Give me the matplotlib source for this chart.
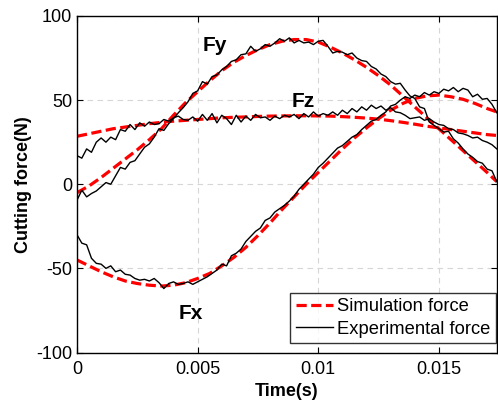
import numpy as np
import matplotlib
matplotlib.use("Agg")
import matplotlib.pyplot as plt

plt.rcParams['font.family'] = ['Liberation Sans', 'DejaVu Sans']
plt.rcParams['axes.unicode_minus'] = False

# simulation force (smooth), sampled every 0.5 ms
t_sim = [0.0, 0.0005, 0.001, 0.0015, 0.002, 0.0025, 0.003, 0.0035, 0.004, 0.0045,
         0.005, 0.0055, 0.006, 0.0065, 0.007, 0.0075, 0.008, 0.0085, 0.009, 0.0095,
         0.01, 0.0105, 0.011, 0.0115, 0.012, 0.0125, 0.013, 0.0135, 0.014, 0.0145,
         0.015, 0.0155, 0.016, 0.0165, 0.017, 0.0174]
fx_sim = [-45, -48.5, -52, -55, -57.5, -59, -60, -60.5, -60, -58.5,
          -56, -53, -48.5, -43.5, -37.5, -30.5, -23, -15, -7.5, 0,
          7, 14, 21, 27.5, 33.5, 39, 44, 48, 51, 52.5,
          53, 52, 50.5, 48, 45, 43]
fy_sim = [-5, -1, 4, 9.5, 15, 20.5, 26.5, 33, 41, 48.5,
          55, 61.5, 67.5, 72.5, 76.5, 80, 83, 85, 86, 86,
          84.5, 81.5, 78, 74, 69.5, 64.5, 59, 52.5, 46, 39.5,
          33, 26.5, 20, 13.5, 7, 1.5]
fz_sim = [28.5, 30, 31.5, 33, 34, 35, 36, 36.8, 37.5, 38,
          38.5, 39, 39.5, 39.8, 40, 40.3, 40.5, 40.6, 40.7, 40.7,
          40.6, 40.5, 40.2, 39.8, 39.3, 38.7, 37.8, 36.8, 35.7, 34.5,
          33.5, 32.5, 31.5, 30.5, 29.5, 29]

# experimental force (measured), sampled every 0.2 ms
t_exp = np.round(np.arange(88) * 0.0002, 5)
fx_exp = [-30, -35, -36, -44, -47, -47.5, -50, -48.5, -52, -51,
          -53.5, -54, -56, -57, -56.5, -57.5, -56, -58.5, -62, -59,
          -58, -59.5, -59, -58, -59.5, -58, -56.5, -55, -53, -51,
          -47.5, -48.5, -42.5, -41, -38.5, -34, -31, -28, -26, -21.5,
          -20, -16.5, -14.5, -12.5, -10, -7, -3, 0, 3, 6,
          10, 12.5, 15.5, 18.5, 21.5, 23, 25.5, 28, 29.5, 32.5,
          35, 37.5, 38.5, 41, 43, 46.5, 47.5, 50, 52, 51,
          53, 52, 54.5, 53, 55, 54, 56.5, 55.5, 57.5, 55,
          57, 56, 52, 53.5, 50.5, 51, 47.5, 42.5]
fy_exp = [-9.5, -3.5, -7.5, -5.5, -4, -1.5, 1, 0, 5, 10,
          9, 13, 14, 18, 22, 24, 28, 33, 32, 36,
          39, 42.5, 45.5, 49, 54, 55.5, 61, 59.5, 64, 65,
          68, 70, 73, 74, 77, 77.5, 82, 79, 80.5, 83,
          82, 84, 86.5, 85, 87, 84, 85.5, 84, 84.5, 83,
          85, 85.5, 82, 78, 79, 78.5, 77, 78, 75, 73.5,
          73, 70, 68.5, 65.5, 64, 61, 59.5, 60, 56, 52.5,
          51, 46, 45, 37, 35, 33, 31, 31.5, 27, 24.5,
          21, 18, 16, 13.5, 12.5, 9, 8, 1.5]
fz_exp = [17, 15.5, 21, 19, 25, 27.5, 25, 28, 26.5, 32.5,
          31.5, 35.5, 32.5, 36.5, 34.5, 37, 35.5, 36, 38.5, 37.5,
          39.5, 40.5, 38.5, 38, 40, 37.5, 41.5, 38, 42, 36.5,
          41, 39, 35.5, 41, 37, 40.5, 38, 41.5, 39.5, 40,
          38, 40.5, 39, 41, 40, 41.5, 39, 42, 40, 43,
          40.5, 42, 41, 43, 41, 44, 42, 45, 43, 46,
          44, 47, 45, 46.5, 44, 45.5, 43, 42.5, 41, 39,
          39.5, 40, 38, 39, 37, 35.5, 35, 33, 32.5, 30.5,
          30, 29, 27.5, 28, 26, 25, 23.5, 21]

fig = plt.figure(figsize=(4.98, 4.03), dpi=100)
ax = fig.add_axes([0.1546, 0.1253, 0.843, 0.835])

sim_style = dict(color='red', lw=2.3, ls=(0, (3.2, 1.4)))
exp_style = dict(color='black', lw=1.0)

for y in (fx_sim, fy_sim, fz_sim):
    ax.plot(t_sim, y, **sim_style)
for y in (fx_exp, fy_exp, fz_exp):
    ax.plot(t_exp, y, **exp_style)

# legend handles
h_sim, = ax.plot([], [], label='Simulation force', **sim_style)
h_exp, = ax.plot([], [], label='Experimental force', **exp_style)
leg = ax.legend(handles=[h_sim, h_exp], loc='lower right',
                bbox_to_anchor=(0.998, 0.028), borderaxespad=0,
                fontsize=13.2, frameon=True, fancybox=False,
                handlelength=2.0, handletextpad=0.25, borderpad=0.3,
                labelspacing=0.3)
leg.get_frame().set_edgecolor('black')
leg.get_frame().set_linewidth(1.0)

ax.text(0.0052, 79, 'Fy', fontsize=15, fontweight='bold')
ax.text(0.0089, 46, 'Fz', fontsize=15, fontweight='bold')
ax.text(0.0042, -80, 'Fx', fontsize=15, fontweight='bold')

ax.set_xlim(0, 0.0174)
ax.set_ylim(-100, 100)
ax.set_xticks([0, 0.005, 0.01, 0.015])
ax.set_xticklabels(['0', '0.005', '0.01', '0.015'])
ax.set_yticks([-100, -50, 0, 50, 100])
ax.tick_params(direction='in', top=True, right=True, labelsize=13,
               length=4, width=0.8)
ax.tick_params(axis='x', pad=6)
ax.grid(True, color='#d6d6d6', ls=(0, (5, 4)), lw=0.8)
for s in ax.spines.values():
    s.set_linewidth(1.0)

ax.set_xlabel('Time(s)', fontsize=13, fontweight='bold', labelpad=4)
ax.set_ylabel('Cutting force(N)', fontsize=13, fontweight='bold', labelpad=3)

fig.savefig('out.png', dpi=100)
